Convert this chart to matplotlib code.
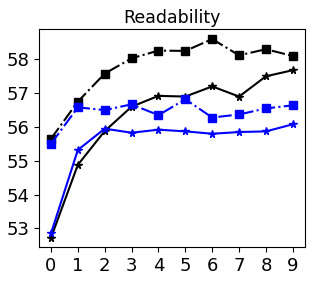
import numpy as np
import matplotlib
matplotlib.use("Agg")
import matplotlib.pyplot as plt

# Datos
steps = np.arange(10)
black_square = [55.65, 56.75, 57.58, 58.03, 58.26, 58.25, 58.6, 58.12, 58.3, 58.1]
black_star = [52.72, 54.88, 55.88, 56.6, 56.92, 56.9, 57.2, 56.9, 57.5, 57.68]
blue_square = [55.5, 56.58, 56.5, 56.67, 56.35, 56.82, 56.28, 56.37, 56.55, 56.64]
blue_star = [52.85, 55.32, 55.95, 55.83, 55.92, 55.87, 55.8, 55.85, 55.87, 56.08]

fig = plt.figure(figsize=(3.16, 2.81), dpi=100)
ax = fig.add_axes([0.123, 0.121, 0.842, 0.776])

ax.plot(steps, black_square, color="black", linestyle="-.", marker="s", markersize=5.5)
ax.plot(steps, black_star, color="black", linestyle="-", marker="*", markersize=5.5)
ax.plot(steps, blue_square, color="blue", linestyle="-.", marker="s", markersize=5.5)
ax.plot(steps, blue_star, color="blue", linestyle="-", marker="*", markersize=5.5)

ax.set_xticks(steps)
ax.set_yticks([53, 54, 55, 56, 57, 58])
ax.set_xlim(-0.45, 9.45)
ax.set_ylim(52.45, 58.9)
ax.tick_params(labelsize=13)
ax.set_title("Readability", fontsize=12.5, pad=4)

fig.savefig("out.png", dpi=100)
